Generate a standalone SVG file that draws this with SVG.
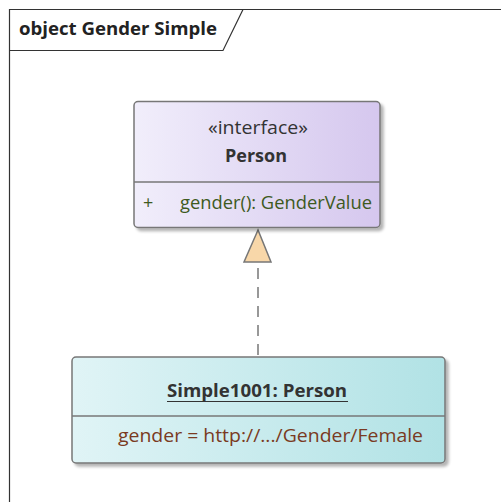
<svg xmlns="http://www.w3.org/2000/svg" width="501" height="502" viewBox="0 0 501 502">
<defs>
<linearGradient id="gP" x1="0" y1="0" x2="1" y2="0"><stop offset="0" stop-color="#F1EEFB"/><stop offset="1" stop-color="#D5C7EE"/></linearGradient>
<linearGradient id="gS" x1="0" y1="0" x2="1" y2="0"><stop offset="0" stop-color="#E0F4F6"/><stop offset="1" stop-color="#B1E2E5"/></linearGradient>
<filter id="sh" x="-5%" y="-5%" width="115%" height="120%"><feGaussianBlur in="SourceAlpha" stdDeviation="1.5"/><feOffset dx="3" dy="3"/><feComponentTransfer><feFuncA type="linear" slope="0.3"/></feComponentTransfer><feMerge><feMergeNode/><feMergeNode in="SourceGraphic"/></feMerge></filter>
<style>
.t{font-family:"Open Sans","Noto Sans","Liberation Sans",sans-serif;font-size:18px}
.b{font-weight:bold}
.box{stroke:#777;stroke-width:1.5}
.ln{stroke:#777;stroke-width:1.5;fill:none}
</style>
</defs>
<rect width="501" height="502" fill="#fff"/>
<g id="frame">
<path d="M9.5,502 V9.5 H501" fill="none" stroke="#333" stroke-width="1.2"/>
<path d="M9.5,50.5 H223 L243,9.5" fill="none" stroke="#333" stroke-width="1.2"/>
<text class="t b" x="19" y="35" fill="#222" textLength="198" lengthAdjust="spacingAndGlyphs">object Gender Simple</text>
</g>
<g id="connectors">
<line class="ln" x1="258" y1="264" x2="258" y2="357" stroke-dasharray="11,8" stroke-dashoffset="-4"/>
<polygon points="258,230 244,262 271,262" fill="#F8D7A9" stroke="#777" stroke-width="1.5"/>
</g>
<g id="person">
<rect class="box" x="134" y="101.5" width="246" height="126" rx="4" fill="url(#gP)" filter="url(#sh)"/>
<line class="ln" x1="134" y1="182" x2="380" y2="182"/>
<text class="t" x="208" y="134" fill="#333" textLength="100" lengthAdjust="spacingAndGlyphs">«interface»</text>
<text class="t b" x="225" y="162" fill="#333" textLength="62" lengthAdjust="spacingAndGlyphs">Person</text>
<text class="t" x="143" y="209" fill="#3E5A1E">+</text>
<text class="t" x="180" y="209" fill="#3E5A1E" textLength="192" lengthAdjust="spacingAndGlyphs">gender(): GenderValue</text>
</g>
<g id="simple1001">
<rect class="box" x="72" y="357" width="373" height="106" rx="4" fill="url(#gS)" filter="url(#sh)"/>
<line class="ln" x1="72" y1="416" x2="445" y2="416"/>
<text class="t b" x="167" y="397" fill="#333" textLength="180" lengthAdjust="spacingAndGlyphs">Simple1001: Person</text>
<line x1="167" y1="401.5" x2="348" y2="401.5" stroke="#333" stroke-width="1.2"/>
<text class="t" x="118" y="442" fill="#7A3A22" textLength="305" lengthAdjust="spacingAndGlyphs">gender = http://.../Gender/Female</text>
</g>
</svg>
